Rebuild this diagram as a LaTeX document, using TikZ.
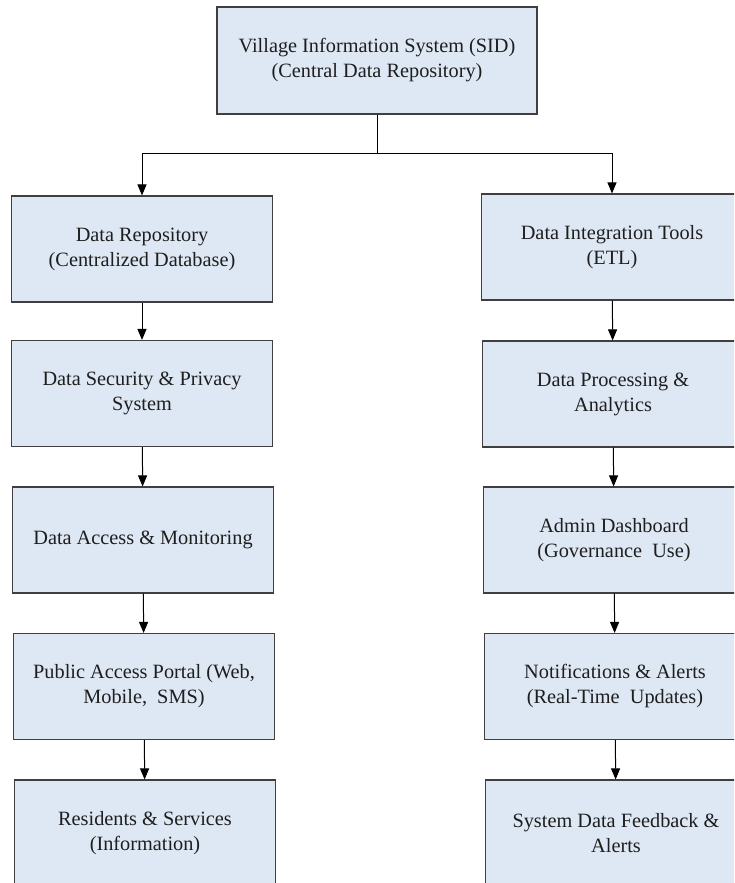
\documentclass[tikz,border=0pt]{standalone}
\usepackage{fontspec}
\setmainfont{Liberation Serif}
\usetikzlibrary{arrows.meta}
\definecolor{boxfill}{HTML}{DEE8F4}
\definecolor{boxline}{HTML}{3F3F3F}
\definecolor{textgray}{HTML}{1E1E1E}

\begin{document}
\begin{tikzpicture}[x=1pt, y=-1pt,
        block/.style={draw=boxline, fill=boxfill, line width=1.1pt,
            minimum width=261pt, minimum height=106pt, inner sep=0pt,
            align=center, text=textgray, font=\fontsize{20.3}{25}\selectfont},
        wire/.style={line width=1pt, draw=black},
        link/.style={wire, -{Triangle[length=11pt, width=9pt]}}]
            \clip (0,0) rectangle (734,883);

            \node[block, minimum width=320pt, minimum height=107pt] (sid) at (377,60.5)
                {Village Information System (SID)\\(Central Data Repository)};

            % left column
            \node[block] (repo) at (142,249) {Data Repository\\(Centralized Database)};
            \node[block] (secure) at (142,393.5) {Data Security \& Privacy\\System};
            \node[block] (access) at (143,540) {Data Access \& Monitoring};
            \node[block] (portal) at (144,686.5) {Public Access Portal (Web,\\Mobile,\ \ SMS)};
            \node[block] (residents) at (145,833) {Residents \& Services\\(Information)};

            % right column
            \node[block] (etl) at (612,247) {Data Integration Tools\\(ETL)};
            \node[block] (process) at (613,394) {Data Processing \&\\Analytics};
            \node[block] (admin) at (614,540) {Admin Dashboard\\(Governance\ \ Use)};
            \node[block] (notify) at (615,686.5) {Notifications \& Alerts\\(Real-Time\ \ Updates)};
            \node[block] (feedback) at (616,833) {System Data Feedback \&\\Alerts};

            \coordinate (split) at (377,153);
            \coordinate (splitL) at (142,153);
            \coordinate (splitR) at (612,153);

            \draw[wire] (sid.south) -- (split);
            \draw[wire] (splitL) -- (splitR);
            \draw[link] (splitL) -- (repo.north);
            \draw[link] (splitR) -- (etl.north);

            \draw[link] (repo) -- (secure);
            \draw[link] (secure) -- (access);
            \draw[link] (access) -- (portal);
            \draw[link] (portal) -- (residents);

            \draw[link] (etl) -- (process);
            \draw[link] (process) -- (admin);
            \draw[link] (admin) -- (notify);
            \draw[link] (notify) -- (feedback);
        \end{tikzpicture}
\end{document}
